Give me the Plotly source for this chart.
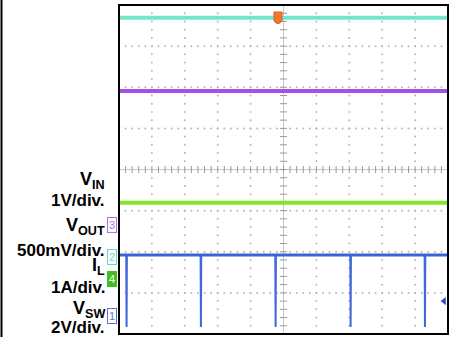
import plotly.graph_objects as go

# ---- data (in scope divisions: x 0..10, y 0..8) ----
vin_level = 7.69
vout_level = 5.91
il_level = 3.19
vsw_high = 1.92
vsw_low = 0.17
spike_times = [0.23, 2.49, 4.76, 7.04, 9.30]
trig_level = 0.80

labels = ["V<sub>IN</sub>", "1V/div.", "V<sub>OUT</sub>", "500mV/div.",
          "I<sub>L</sub>", "1A/div.", "V<sub>SW</sub>", "2V/div."]
label_py = [180, 200, 226, 251, 266, 287, 309, 327]
label_big = [True, False, True, False, True, False, True, False]

chan_names = ["3", "2", "4", "1"]
chan_py = [225, 257, 279, 316]
chan_colors = ["#b070e0", "#70d8c0", "#40c020", "#6070e0"]
chan_fill = [False, False, True, False]

# ---- geometry helpers ----
L, R, T, B = 119, 448, 5, 334
def px_to_paper_x(px):
    return (px - L) / (R - L)
def py_to_paper_y(py):
    return (B - py) / (B - T)

fig = go.Figure()

# grid dots
gx, gy = [], []
for i in range(1, 10):
    if i == 5:
        continue
    for k in range(0, 41):
        gx.append(i); gy.append(k * 0.2)
for j in range(1, 8):
    if j == 4:
        continue
    for k in range(0, 51):
        gx.append(k * 0.2); gy.append(j)
fig.add_trace(go.Scatter(x=gx, y=gy, mode="markers",
                         marker=dict(size=2, color="#b8b8b8"),
                         hoverinfo="skip", showlegend=False))
# center lines
fig.add_trace(go.Scatter(x=[0, 10], y=[4, 4], mode="lines",
                         line=dict(color="#c8c8c8", width=1), showlegend=False))
fig.add_trace(go.Scatter(x=[5, 5], y=[0, 8], mode="lines",
                         line=dict(color="#c8c8c8", width=1), showlegend=False))
fig.add_trace(go.Scatter(x=[k * 0.2 for k in range(51)], y=[4] * 51, mode="markers",
                         marker=dict(symbol="line-ns", size=5, color="#999999",
                                     line=dict(width=1, color="#999999")),
                         showlegend=False))
fig.add_trace(go.Scatter(x=[5] * 41, y=[k * 0.2 for k in range(41)], mode="markers",
                         marker=dict(symbol="line-ew", size=5, color="#999999",
                                     line=dict(width=1, color="#999999")),
                         showlegend=False))

# traces
fig.add_trace(go.Scatter(x=[0, 10], y=[vin_level, vin_level], mode="lines",
                         line=dict(color="#6fe8cc", width=4), showlegend=False))
fig.add_trace(go.Scatter(x=[0, 10], y=[vout_level, vout_level], mode="lines",
                         line=dict(color="#a452e6", width=4), showlegend=False))
fig.add_trace(go.Scatter(x=[0, 10], y=[il_level, il_level], mode="lines",
                         line=dict(color="#84e42a", width=4), showlegend=False))
sx, sy = [0], [vsw_high]
for t in spike_times:
    sx += [t - 0.01, t, t + 0.01]
    sy += [vsw_high, vsw_low, vsw_high]
sx.append(10); sy.append(vsw_high)
fig.add_trace(go.Scatter(x=sx, y=sy, mode="lines",
                         line=dict(color="#4466dc", width=2), showlegend=False))
fig.add_trace(go.Scatter(x=[0, 10], y=[vsw_high, vsw_high], mode="lines",
                         line=dict(color="#3f62d8", width=3), showlegend=False))
# trigger level arrow
fig.add_trace(go.Scatter(x=[9.88], y=[trig_level], mode="markers",
                         marker=dict(symbol="triangle-left", size=7, color="#3050c8"),
                         showlegend=False))

shapes = []
# frame
shapes.append(dict(type="rect", xref="paper", yref="paper", x0=0, y0=0, x1=1, y1=1,
                   line=dict(color="black", width=2)))
# far-left line
shapes.append(dict(type="line", xref="paper", yref="paper",
                   x0=px_to_paper_x(1.5), x1=px_to_paper_x(1.5),
                   y0=py_to_paper_y(0), y1=py_to_paper_y(337),
                   line=dict(color="black", width=2)))
# trigger position marker (orange)
shapes.append(dict(type="path", xref="paper", yref="paper",
                   path="M {0},{1} L {2},{1} L {2},{3} Q {4},{5} {0},{3} Z".format(
                       px_to_paper_x(274), py_to_paper_y(12), px_to_paper_x(282),
                       py_to_paper_y(21), px_to_paper_x(278), py_to_paper_y(26)),
                   fillcolor="#f07830", line=dict(color="#e05a20", width=1)))

annotations = []
for txt, py, big in zip(labels, label_py, label_big):
    annotations.append(dict(text=txt, xref="paper", yref="paper",
                            x=px_to_paper_x(107), y=py_to_paper_y(py),
                            xanchor="right", yanchor="middle", showarrow=False,
                            font=dict(family="Liberation Sans, Arial", size=18 if big else 17,
                                      color="black", weight="bold")))
for name, py, col, fill in zip(chan_names, chan_py, chan_colors, chan_fill):
    annotations.append(dict(text=name, xref="paper", yref="paper",
                            x=px_to_paper_x(112), y=py_to_paper_y(py),
                            xanchor="center", yanchor="middle", showarrow=False,
                            font=dict(family="Liberation Sans, Arial", size=11,
                                      color="white" if fill else col),
                            bgcolor=col if fill else "white",
                            bordercolor=col, borderwidth=1, borderpad=1))

fig.update_layout(
    width=453, height=337,
    margin=dict(l=L, r=453 - R, t=T, b=337 - B),
    paper_bgcolor="white", plot_bgcolor="white",
    xaxis=dict(range=[0, 10], visible=False, fixedrange=True),
    yaxis=dict(range=[0, 8], visible=False, fixedrange=True),
    shapes=shapes, annotations=annotations,
    showlegend=False,
)

fig.write_html("out.html", config={"displayModeBar": False},
               post_script="document.body.style.margin='0';document.body.style.overflow='hidden';")
